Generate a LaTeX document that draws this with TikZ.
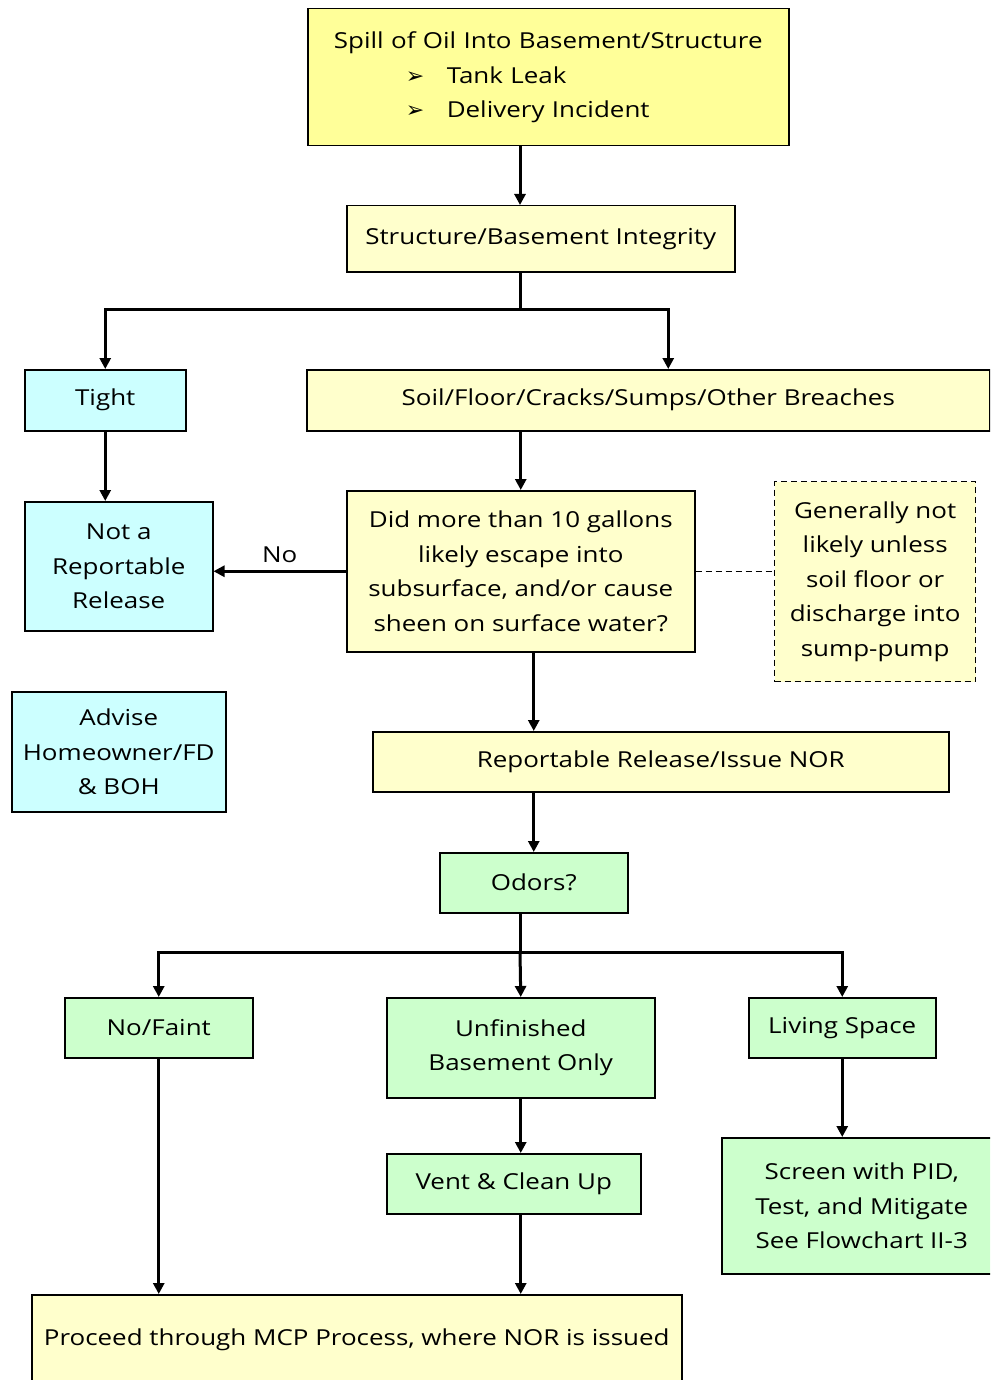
\documentclass[tikz,border=0pt]{standalone}
\usepackage{fontspec}
\setmainfont[FakeStretch=1.18]{Open Sans}
\newfontfamily\symfont{DejaVu Sans}
\usetikzlibrary{arrows.meta}
\usetikzlibrary{positioning}

\definecolor{paleyellow}{HTML}{FFFFCC}
\definecolor{brightyellow}{HTML}{FFFF99}
\definecolor{palecyan}{HTML}{CCFFFF}
\definecolor{palegreen}{HTML}{CCFFCC}

\begin{document}
\begin{tikzpicture}[
				x=1pt, y=-1pt,
				font=\fontsize{22}{34.5}\selectfont,
				arrow/.style={line width=3pt, -{Triangle[length=11pt, width=11pt]}},
				link/.style={line width=3pt},
				block/.style={draw, line width=1.5pt, anchor=north west, inner sep=0pt, align=center},
				note/.style={block, dash pattern=on 6pt off 4pt, line width=1.3pt},
			]
				\clip (0,0) rectangle (990,1380);

				\node[block, fill=brightyellow, minimum width=481pt, minimum height=137pt, text width=481pt, align=left] (spill) at (307,8)
					{\makebox[481pt]{Spill of Oil Into Basement/Structure}\\
					\hspace*{98pt}\makebox[41pt][l]{\symfont ➢}Tank Leak\\
					\hspace*{98pt}\makebox[41pt][l]{\symfont ➢}Delivery Incident};
				\node[block, fill=paleyellow, minimum width=388pt, minimum height=66pt] (integrity) at (346,205) {Structure/Basement Integrity};
				\node[block, fill=palecyan, minimum width=161pt, minimum height=61pt] (tight) at (24,369) {Tight};
				\node[block, fill=paleyellow, minimum width=683pt, minimum height=61pt] (breaches) at (306,369) {Soil/Floor/Cracks/Sumps/Other Breaches};
				\node[block, fill=palecyan, minimum width=188pt, minimum height=129pt] (notreportable) at (24,501) {Not a\\ Reportable\\ Release};
				\node[block, fill=paleyellow, minimum width=348pt, minimum height=161pt] (question) at (346,490)
					{Did more than 10 gallons\\ likely escape into\\ subsurface, and/or cause\\ sheen on surface water?};
				\node[note, fill=paleyellow, minimum width=201pt, minimum height=200pt] (comment) at (774,481)
					{Generally not\\ likely unless\\ soil floor or\\ discharge into\\ sump-pump};
				\node[block, fill=palecyan, minimum width=214pt, minimum height=120pt] (advise) at (11,691) {Advise\\ Homeowner/FD\\ \& BOH};
				\node[block, fill=paleyellow, minimum width=576pt, minimum height=60pt] (reportable) at (372,731) {Reportable Release/Issue NOR};
				\node[block, fill=palegreen, minimum width=188pt, minimum height=60pt] (odors) at (439,852) {Odors?};
				\node[block, fill=palegreen, minimum width=188pt, minimum height=60pt] (faint) at (64,997) {No/Faint};
				\node[block, fill=palegreen, minimum width=268pt, minimum height=100pt] (unfinished) at (386,997) {Unfinished\\ Basement Only};
				\node[block, fill=palegreen, minimum width=187pt, minimum height=60pt] (living) at (748,997) {Living Space};
				\node[block, fill=palegreen, minimum width=280pt, minimum height=136pt] (screen) at (721,1137)
					{Screen with PID,\\ Test, and Mitigate\\ See Flowchart II-3};
				\node[block, fill=palegreen, minimum width=254pt, minimum height=60pt] (vent) at (386,1153) {Vent \& Clean Up};
				\node[block, fill=paleyellow, minimum width=650pt, minimum height=90pt] (proceed) at (31,1294) {Proceed through MCP Process, where NOR is issued};

				\coordinate (fork) at (520,309);
				\coordinate (split) at (520,952);

				\draw[arrow] (spill.south -| fork) -- (integrity.north -| fork);
				\draw[link] (integrity.south -| fork) -- (fork);
				\draw[arrow] (fork) -| (tight.north);
				\draw[arrow] (fork) -| ([xshift=20pt]breaches.north);

				\draw[arrow] (tight.south) -- (tight.south |- notreportable.north);
				\draw[arrow] (breaches.south -| question.north) -- (question.north);
				\draw[arrow] (question.west) -- (notreportable.east |- question.west) node[midway, above=4pt] {No};
				\draw[dash pattern=on 6pt off 4pt, line width=1.3pt] (question.east) -- (comment.west |- question.east);

				\draw[arrow] ([xshift=13pt]question.south) -- ([xshift=13pt]question.south |- reportable.north);
				\draw[arrow] (reportable.south -| odors.north) -- (odors.north);

				\draw[link] (odors.south -| split) -- (split);
				\draw[arrow] (split) -| (faint.north);
				\draw[arrow] (split) -- (unfinished.north);
				\draw[arrow] (split) -| (living.north);

				\draw[arrow] (living.south) -- (living.south |- screen.north);
				\draw[arrow] (unfinished.south) -- (unfinished.south |- vent.north);
				\draw[arrow] (vent.south -| unfinished.south) -- (unfinished.south |- proceed.north);
				\draw[arrow] (faint.south) -- (faint.south |- proceed.north);
			\end{tikzpicture}
\end{document}
